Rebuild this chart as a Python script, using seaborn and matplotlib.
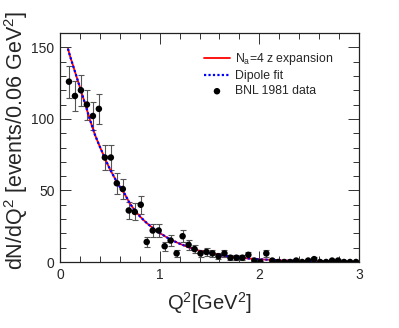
import numpy as np
import pandas as pd
import seaborn as sns
import matplotlib
matplotlib.use("Agg")
import matplotlib.pyplot as plt
from matplotlib.ticker import MultipleLocator

# BNL 1981 data (bin centres, counts per 0.06 GeV^2, errors)
q2_data = [0.09, 0.15, 0.21, 0.27, 0.33, 0.39, 0.45, 0.51, 0.57, 0.63,
           0.69, 0.75, 0.81, 0.87, 0.93, 0.99, 1.05, 1.11, 1.17, 1.23,
           1.29, 1.35, 1.41, 1.47, 1.53, 1.59, 1.65, 1.71, 1.77, 1.83,
           1.89, 1.95, 2.01, 2.07, 2.13, 2.19, 2.25, 2.31, 2.37, 2.43,
           2.49, 2.55, 2.61, 2.67, 2.73, 2.79, 2.85, 2.91, 2.97]
counts = [126, 116, 120, 110, 102, 107, 73, 73, 55, 51,
          36, 35, 40, 14, 22, 22, 11, 15, 6, 18,
          12, 9, 6, 7, 6, 4, 6, 3, 3, 3,
          5, 1, 0, 6, 1, 0, 0, 0, 1, 0,
          1, 2, 0, 0, 1, 1, 0, 0, 0]
errors = [11.2, 10.8, 11.0, 10.5, 10.1, 10.3, 8.5, 8.5, 7.4, 7.1,
          6.0, 5.9, 6.3, 3.7, 4.7, 4.7, 3.3, 3.9, 2.4, 4.2,
          3.5, 3.0, 2.4, 2.6, 2.4, 2.0, 2.4, 1.7, 1.7, 1.7,
          2.2, 1.0, 0.0, 2.4, 1.0, 0.0, 0.0, 0.0, 1.0, 0.0,
          1.0, 1.4, 0.0, 0.0, 1.0, 1.0, 0.0, 0.0, 0.0]

# fitted curves (the two fits overlap)
q2_curve = [0.08, 0.10, 0.15, 0.20, 0.25, 0.30, 0.35, 0.40, 0.45, 0.50,
            0.55, 0.60, 0.65, 0.70, 0.75, 0.80, 0.85, 0.90, 0.95, 1.00,
            1.10, 1.20, 1.30, 1.40, 1.50, 1.60, 1.70, 1.80, 1.90, 2.00,
            2.20, 2.40, 2.60, 2.80, 3.00]
zexp = [149, 144, 133, 122, 111, 99.5, 89, 80.5, 72.5, 65,
        58.5, 52.5, 47.5, 41, 36, 32, 28.5, 25.5, 22.7, 20.3,
        16, 12.8, 10, 7.8, 6.2, 4.9, 3.9, 3.1, 2.4, 1.9,
        1.2, 0.8, 0.5, 0.3, 0.2]
dipole = [149, 144, 133, 122, 111, 99.5, 89, 80.5, 72.5, 65,
          58.5, 52.5, 47.5, 41, 36, 32, 28.5, 25.5, 22.7, 20.3,
          16, 12.8, 10, 7.8, 6.2, 4.9, 3.9, 3.1, 2.4, 1.9,
          1.2, 0.8, 0.5, 0.3, 0.2]

sns.set_style("ticks")
plt.rcParams["font.family"] = ["Liberation Sans", "DejaVu Sans"]
plt.rcParams["mathtext.fontset"] = "custom"
plt.rcParams["mathtext.rm"] = "Liberation Sans"
plt.rcParams["mathtext.it"] = "Liberation Sans:italic"
plt.rcParams["mathtext.default"] = "regular"

data = pd.DataFrame({"q2": q2_data, "n": counts, "err": errors})
curves = pd.DataFrame({"q2": q2_curve, "zexp": zexp, "dipole": dipole})

fig = plt.figure(figsize=(3.99, 3.28), dpi=100)
ax = fig.add_axes([60 / 399, 1 - 262 / 328, 299 / 399, 229 / 328])

ax.errorbar(data["q2"], data["n"], yerr=data["err"], fmt="none",
            ecolor="#555555", elinewidth=0.8, capsize=2.2, capthick=0.8, zorder=2)
sns.lineplot(data=curves, x="q2", y="zexp", color="red", lw=1.3, ax=ax,
             label="N$_a$=4 z expansion", zorder=3)
sns.lineplot(data=curves, x="q2", y="dipole", color="blue", lw=1.6, ax=ax,
             linestyle=(0, (1, 1)), label="Dipole fit", zorder=4)
sns.scatterplot(data=data, x="q2", y="n", color="black", s=22, edgecolor="none",
                ax=ax, label="BNL 1981 data", zorder=5)

ax.set_xlim(0, 3)
ax.set_ylim(0, 160)
ax.xaxis.set_major_locator(MultipleLocator(1))
ax.xaxis.set_minor_locator(MultipleLocator(0.2))
ax.yaxis.set_major_locator(MultipleLocator(50))
ax.yaxis.set_minor_locator(MultipleLocator(10))
ax.tick_params(which="both", direction="in", top=True, right=True,
               labelsize=10, width=0.7, color="#333333", pad=4)
ax.tick_params(which="major", length=8)
ax.tick_params(which="minor", length=4)
for s in ax.spines.values():
    s.set_linewidth(0.9)
    s.set_color("#222222")

ax.set_xlabel("Q$^2$[GeV$^2$]", fontsize=14.5, labelpad=6)
ax.set_ylabel("dN/dQ$^2$ [events/0.06 GeV$^2$]", fontsize=15.5)
ax.yaxis.set_label_coords(-0.10, 0.53)

ax.legend(loc="upper left", bbox_to_anchor=(0.48, 0.92), frameon=False,
          fontsize=8.8, handlelength=2.2, handletextpad=0.35, labelspacing=0.25,
          borderpad=0, borderaxespad=0)

fig.savefig("out.png", dpi=100)
